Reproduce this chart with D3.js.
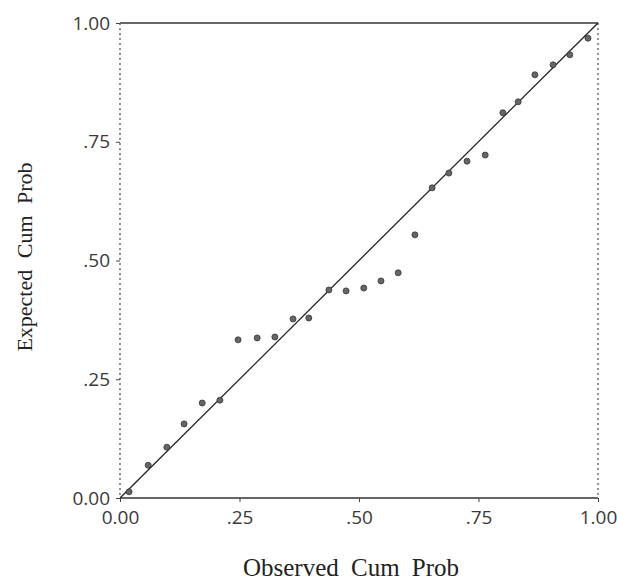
<!DOCTYPE html>
<html>
<head>
<meta charset="utf-8">
<script src="https://cdn.jsdelivr.net/npm/d3@7"></script>
<style>
  body { margin: 0; background: #fff; }
  svg { display: block; }
</style>
</head>
<body>
<svg id="chart"></svg>
<script>
const SVG_WIDTH = 617;
const SVG_HEIGHT = 583;

// observed vs expected cumulative probability
const observed = [0.019, 0.059, 0.098, 0.134, 0.172, 0.209, 0.247, 0.287, 0.324,
                  0.362, 0.395, 0.437, 0.473, 0.510, 0.546, 0.582, 0.617, 0.653,
                  0.688, 0.726, 0.764, 0.801, 0.833, 0.868, 0.906, 0.941, 0.979];
const expected = [0.013, 0.069, 0.107, 0.156, 0.200, 0.206, 0.333, 0.337, 0.339,
                  0.377, 0.379, 0.438, 0.436, 0.442, 0.457, 0.474, 0.554, 0.653,
                  0.684, 0.709, 0.722, 0.811, 0.834, 0.891, 0.912, 0.933, 0.968];
const tick_values = [0, 0.25, 0.5, 0.75, 1];
const tick_labels = ["0.00", ".25", ".50", ".75", "1.00"];

const PLOT_LEFT = 120, PLOT_RIGHT = 598, PLOT_TOP = 23, PLOT_BOTTOM = 498;

let svg = d3.select("#chart")
  .attr("width", SVG_WIDTH)
  .attr("height", SVG_HEIGHT);

let x = d3.scaleLinear().domain([0, 1]).range([PLOT_LEFT, PLOT_RIGHT]);
let y = d3.scaleLinear().domain([0, 1]).range([PLOT_BOTTOM, PLOT_TOP]);

// frame: solid top/bottom, dotted-looking left/right
svg.append("line")
  .attr("x1", PLOT_LEFT).attr("x2", PLOT_RIGHT).attr("y1", PLOT_TOP).attr("y2", PLOT_TOP)
  .attr("stroke", "#333").attr("stroke-width", 1.5);
svg.append("line")
  .attr("x1", PLOT_LEFT).attr("x2", PLOT_RIGHT).attr("y1", PLOT_BOTTOM).attr("y2", PLOT_BOTTOM)
  .attr("stroke", "#333").attr("stroke-width", 1.5);
[PLOT_LEFT, PLOT_RIGHT].forEach(function(px) {
  svg.append("line")
    .attr("x1", px).attr("x2", px).attr("y1", PLOT_TOP).attr("y2", PLOT_BOTTOM)
    .attr("stroke", "#555").attr("stroke-width", 1.3)
    .attr("stroke-dasharray", "2,3");
});

// axes
let fmt = function(d) { return tick_labels[tick_values.indexOf(d)]; };

let xAxis = svg.append("g")
  .attr("transform", "translate(0," + PLOT_BOTTOM + ")")
  .call(d3.axisBottom(x).tickValues(tick_values).tickFormat(fmt).tickSize(4).tickPadding(9));
let yAxis = svg.append("g")
  .attr("transform", "translate(" + PLOT_LEFT + ",0)")
  .call(d3.axisLeft(y).tickValues(tick_values).tickFormat(fmt).tickSize(4).tickPadding(6));

[xAxis, yAxis].forEach(function(a) {
  a.select(".domain").remove();
  a.selectAll(".tick line").attr("stroke", "#444");
  a.selectAll("text")
    .attr("fill", "#3a3a3a")
    .style("font-family", "'Open Sans', sans-serif")
    .style("font-size", "19px");
});

// reference diagonal
svg.append("line")
  .attr("x1", x(0)).attr("y1", y(0))
  .attr("x2", x(1)).attr("y2", y(1))
  .attr("stroke", "#222").attr("stroke-width", 1.3);

// points
svg.selectAll("circle.pt")
  .data(observed)
  .enter()
  .append("circle")
  .attr("class", "pt")
  .attr("cx", function(d) { return x(d); })
  .attr("cy", function(d, i) { return y(expected[i]); })
  .attr("r", 3)
  .attr("fill", "#666")
  .attr("stroke", "#333")
  .attr("stroke-width", 0.8);

// titles
svg.append("text")
  .attr("x", 351).attr("y", 576)
  .attr("text-anchor", "middle")
  .attr("fill", "#222")
  .style("font-family", "'Liberation Serif', serif")
  .style("font-size", "25px")
  .style("word-spacing", "6px")
  .text("Observed Cum Prob");

svg.append("text")
  .attr("transform", "translate(32,257) rotate(-90)")
  .attr("text-anchor", "middle")
  .attr("fill", "#222")
  .style("font-family", "'Liberation Serif', serif")
  .style("font-size", "22px")
  .style("word-spacing", "6px")
  .text("Expected Cum Prob");
</script>
</body>
</html>
